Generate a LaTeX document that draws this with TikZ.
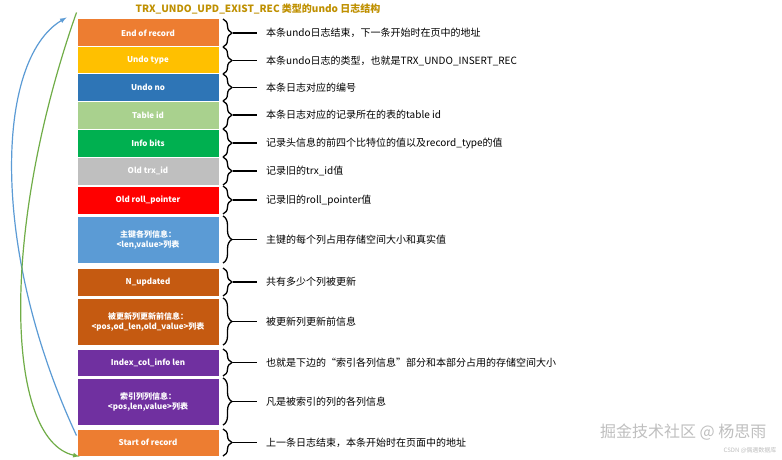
\documentclass[tikz,border=0pt]{standalone}
\usepackage{fontspec}
\setmainfont{Noto Sans CJK SC}
\usetikzlibrary{decorations.pathreplacing}
\definecolor{cOr}{HTML}{ED7D31}
\definecolor{cYe}{HTML}{FFC000}
\definecolor{cBl}{HTML}{2E75B6}
\definecolor{cLg}{HTML}{A9D18E}
\definecolor{cGr}{HTML}{00B050}
\definecolor{cGy}{HTML}{BFBFBF}
\definecolor{cRe}{HTML}{FF0000}
\definecolor{cLb}{HTML}{5B9BD5}
\definecolor{cBr}{HTML}{C55A11}
\definecolor{cPu}{HTML}{7030A0}
\definecolor{cTi}{HTML}{BF9000}
\definecolor{cGl}{HTML}{70AD47}
\begin{document}
\begin{tikzpicture}[x=1pt,y=-1pt,
  fld/.style={draw=white,line width=1pt,text=white,font=\bfseries\fontsize{8}{10}\selectfont,minimum width=142pt,align=center,inner sep=0pt},
  brc/.style={decoration={brace,amplitude=9pt,aspect=0.5},decorate,line width=1.3pt},
  desc/.style={anchor=west,font=\fontsize{10}{12}\selectfont,inner sep=0pt}]
\useasboundingbox[fill=white] (0,0) rectangle (782,460);
\node[font=\bfseries\fontsize{10}{12}\selectfont,text=cTi] (title) at (258,9) {TRX\_UNDO\_UPD\_EXIST\_REC 类型的undo 日志结构};
\def\row#1#2#3#4#5#6{%
  \node[fld,fill=#4,minimum height=#3-#2] (#1) at (148,{(#2+#3)/2}) {#5};
  \draw[brc] (223,#2) -- (223,#3);
  \coordinate (m#1) at (233,{(#2+#3)/2});
  \draw[line width=1.3pt] (m#1) -- ++(24,0) coordinate (e#1);
  \node[desc] (d#1) at ([xshift=9pt]e#1) {#6};}
\row{a}{19}{47}{cOr}{End of record}{本条undo日志结束，下一条开始时在页中的地址}
\row{b}{47}{74}{cYe}{Undo type}{本条undo日志的类型，也就是TRX\_UNDO\_INSERT\_REC}
\row{c}{74}{101}{cBl}{Undo no}{本条日志对应的编号}
\row{d}{101}{129}{cLg}{Table id}{本条日志对应的记录所在的表的table id}
\row{e}{129}{157}{cGr}{Info bits}{记录头信息的前四个比特位的值以及record\_type的值}
\row{f}{157}{185}{cGy}{Old trx\_id}{记录旧的trx\_id值}
\row{g}{186}{214}{cRe}{Old roll\_pointer}{记录旧的roll\_pointer值}
\row{h}{216}{263}{cLb}{主键各列信息：\\<len,value>列表}{主键的每个列占用存储空间大小和真实值}
\row{i}{268}{296}{cBr}{N\_updated}{共有多少个列被更新}
\row{j}{298}{345}{cBr}{被更新列更新前信息：\\<pos,od\_len,old\_value>列表}{被更新列更新前信息}
\row{k}{349}{376}{cPu}{Index\_col\_info len}{也就是下边的“索引各列信息”部分和本部分占用的存储空间大小}
\row{l}{378}{425}{cPu}{索引列列信息：\\<pos,len,value>列表}{凡是被索引的列的各列信息}
\row{m}{429}{456}{cOr}{Start of record}{上一条日志结束，本条开始时在页面中的地址}
\draw[cLb,line width=1.2pt,-latex] ([yshift=-7pt]m.north west) .. controls (-10,250) and (-5,60) .. ([xshift=-10pt,yshift=1pt]a.north west);
\draw[cGl,line width=1.2pt,-latex] ([yshift=6pt]a.north west) .. controls (0,230) and (5,440) .. ([xshift=3pt]m.south west);
\node[text=black!25,font=\fontsize{16}{18}\selectfont,anchor=east] (wm) at (770,432) {掘金技术社区 @ 杨思雨};
\node[text=black!25,font=\fontsize{6}{7}\selectfont,anchor=east] (wm2) at (780,450) {CSDN @偶遇数据库};
\end{tikzpicture}
\end{document}
